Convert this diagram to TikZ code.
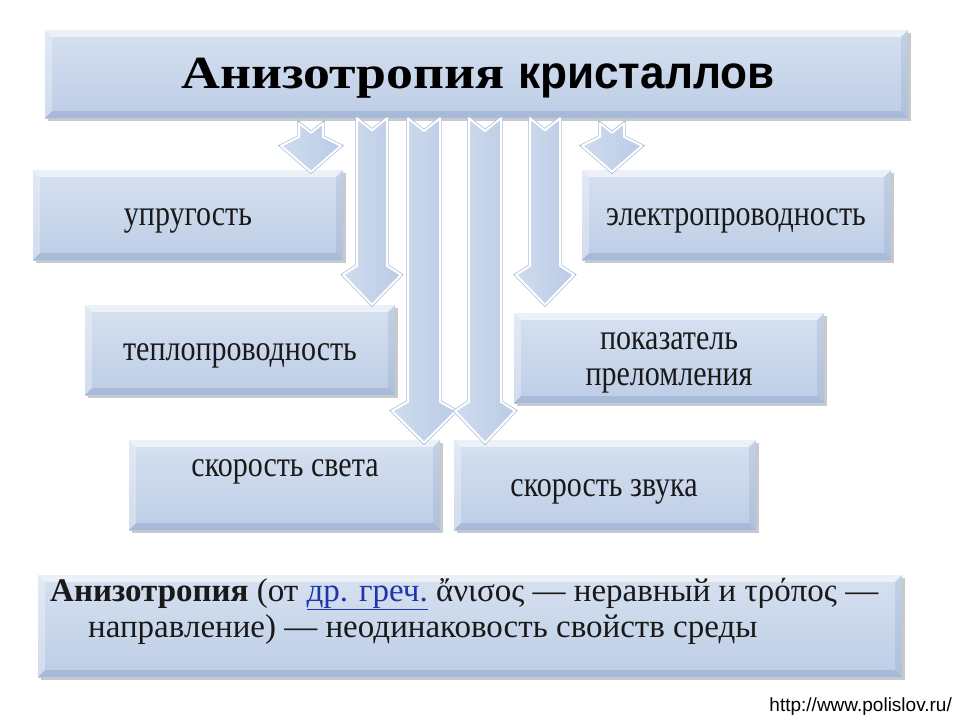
\documentclass[tikz,border=0pt]{standalone}
\usepackage{fontspec}
\setmainfont{Liberation Serif}
\newfontfamily\serifrm{Liberation Serif}
\newfontfamily\sanscond[FakeStretch=0.82]{Liberation Sans}
\newfontfamily\urlfont{Liberation Sans}
\usetikzlibrary{calc,shadows}
\definecolor{boxtop}{HTML}{D6E1F0}
\definecolor{boxbot}{HTML}{BDCDE6}
\definecolor{bevdark}{HTML}{7E96BC}
\definecolor{linkblue}{HTML}{2035A8}
\definecolor{arrL}{HTML}{D0DCEE}
\definecolor{arrM}{HTML}{F4F7FC}
\definecolor{arrR}{HTML}{BACBE5}
\definecolor{arrEdge}{HTML}{A9BBD6}
\newcommand\vstretch[1]{\scalebox{1}[1.2]{#1}}
\tikzset{
  bevbox/.style={rectangle, inner sep=0pt, top color=boxtop, bottom color=boxbot,
     drop shadow={shadow xshift=3pt, shadow yshift=-3pt, opacity=.35, fill=black!60}},
  boxtext/.style={font=\serifrm\fontsize{30}{36}\selectfont, align=center, inner sep=0pt, text=black!90},
  deftext/.style={font=\serifrm\fontsize{33}{36}\selectfont, inner sep=0pt, anchor=base west, text=black!90},
  arrowsty/.style={left color=arrL, middle color=arrM, right color=arrR, draw=white, line width=2pt,
     line join=round, preaction={draw=arrEdge, line width=3.4pt}},
}
% bevel overlay for a named node
\newcommand\bevel[1]{%
  \fill[white, opacity=.55] (#1.north west) -- (#1.north east) -- ([xshift=-7pt,yshift=-7pt]#1.north east) -- ([xshift=7pt,yshift=-7pt]#1.north west) -- cycle;
  \fill[white, opacity=.30] (#1.north west) -- ([xshift=7pt,yshift=-7pt]#1.north west) -- ([xshift=7pt,yshift=7pt]#1.south west) -- (#1.south west) -- cycle;
  \fill[bevdark, opacity=.35] (#1.south west) -- ([xshift=7pt,yshift=7pt]#1.south west) -- ([xshift=-7pt,yshift=7pt]#1.south east) -- (#1.south east) -- cycle;
  \fill[bevdark, opacity=.22] (#1.south east) -- ([xshift=-7pt,yshift=7pt]#1.south east) -- ([xshift=-7pt,yshift=-7pt]#1.north east) -- (#1.north east) -- cycle;
}
% block arrow: #1 centre x, #2 from node, #3 to node, #4 gap below from, #5 overlap into to,
% #6 shaft half width, #7 head half width, #8 head length
\newcommand\barrow[8]{%
  \path[arrowsty] let \p1=(#2.south), \p2=(#3.north),
      \n1={\y1-#4pt}, \n2={\y2-#5pt} in
    ({#1pt-#6pt}, \n1) -- (#1pt, {\n1-0.8*#6pt}) -- ({#1pt+#6pt}, \n1)
    -- ({#1pt+#6pt}, {\n2+#8pt+9pt}) -- ({#1pt+#7pt}, {\n2+#8pt})
    -- (#1pt, \n2) -- ({#1pt-#7pt}, {\n2+#8pt}) -- ({#1pt-#6pt}, {\n2+#8pt+9pt}) -- cycle;
}
\begin{document}
\begin{tikzpicture}[x=1pt, y=-1pt]
\useasboundingbox (0,0) rectangle (955,716);
\fill[white] (0,0) rectangle (955,716);

% boxes
\node[bevbox, minimum width=863pt, minimum height=88pt] (title) at (476.5,74) {};
\node[bevbox, minimum width=310pt, minimum height=90pt] (upr) at (188,215) {};
\node[bevbox, minimum width=309pt, minimum height=90pt] (elec) at (736.5,215) {};
\node[bevbox, minimum width=310pt, minimum height=90pt] (tepl) at (240,350) {};
\node[bevbox, minimum width=310pt, minimum height=90pt] (pokaz) at (669,358) {};
\node[bevbox, minimum width=311pt, minimum height=90pt] (svet) at (284.5,485) {};
\node[bevbox, minimum width=302pt, minimum height=90pt] (zvuk) at (605,485) {};
\node[bevbox, minimum width=864pt, minimum height=102pt] (defn) at (470,626) {};
\foreach \n in {title,upr,elec,tepl,pokaz,svet,zvuk,defn} {\bevel{\n}}

% texts
\node[inner sep=0pt, anchor=base, font=\fontsize{46}{50}\selectfont] (titletxt) at (478,88)
  {\scalebox{1.17}[1]{\textbf{\serifrm Анизотропия} {\sanscond\bfseries кристаллов}}};
\node[boxtext, anchor=base] (t1) at (188,225) {\vstretch{упругость}};
\node[boxtext, anchor=base] (t2) at (736,225) {\vstretch{электропроводность}};
\node[boxtext, anchor=base] (t3) at (240,360) {\vstretch{теплопроводность}};
\node[boxtext, anchor=base] (t4a) at (669,349) {\vstretch{показатель}};
\node[boxtext, anchor=base] (t4b) at (669,385) {\vstretch{преломления}};
\node[boxtext, anchor=base] (t5) at (285,476) {\vstretch{скорость света}};
\node[boxtext, anchor=base] (t6) at (604,496) {\vstretch{скорость звука}};
\node[deftext] (d1) at (50,601)
  {\textbf{Анизотропия} (от \textcolor{linkblue}{\underline{др. греч.}} ἄνισος — неравный и τρόπος —};
\node[deftext] (d2) at (88,637)
  {направление) — неодинаковость свойств среды};
\node[inner sep=0pt, anchor=base east, font=\urlfont\fontsize{19}{22}\selectfont] (url) at (952,711)
  {http://www.polislov.ru/};

% arrows
\barrow{311}{title}{upr}{5}{2}{12}{30}{26}
\barrow{612}{title}{elec}{5}{2}{12}{30}{26}
\barrow{372}{title}{tepl}{0}{0}{15}{29}{30}
\barrow{424}{title}{svet}{0}{3}{16}{32}{32}
\barrow{485}{title}{zvuk}{0}{3}{16}{30}{32}
\barrow{545}{title}{pokaz}{0}{-8}{15}{29}{30}
\end{tikzpicture}
\end{document}
